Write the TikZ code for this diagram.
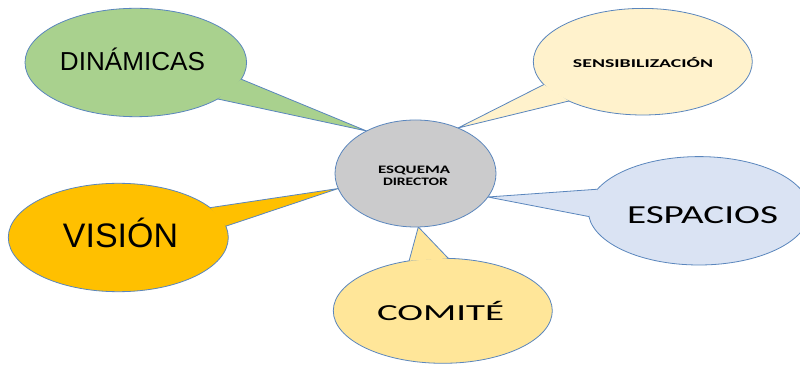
\documentclass[tikz,border=0pt]{standalone}
\usepackage{fontspec}
\usepackage{graphicx}
\setmainfont{Liberation Sans}
\newfontfamily\carlito{Carlito}
\usetikzlibrary{shapes.geometric,backgrounds}
\definecolor{rim}{HTML}{5A86BD}
\definecolor{cgreen}{HTML}{A9D18E}
\definecolor{ccream}{HTML}{FFF2CC}
\definecolor{cgold}{HTML}{FFC000}
\definecolor{cblue}{HTML}{DAE3F3}
\definecolor{cyellow}{HTML}{FFE699}
\definecolor{cgrey}{HTML}{CBCBCC}
% stretch a word to a given width, keeping its height
\newcommand\widen[2]{\resizebox{#1}{\height}{#2}}
% speech bubble: name, colour, centre, width, height, base angles A/B, tip angle on the hub
\newcommand\callout[8]{%
  \node[bubble, fill=#2, minimum width=#4pt, minimum height=#5pt] (#1) at (#3) {};
  \coordinate (#1-tip) at (esq.#8);
  \fill[#2] (#1.#6) -- (#1-tip) -- (#1.#7) -- cycle;
  \draw[rimline] (#1.#6) -- (#1-tip) -- (#1.#7);
}
\begin{document}
\begin{tikzpicture}[x=1pt,y=1pt,
  bubble/.style={ellipse, draw=rim, line width=0.8pt, inner sep=0pt, outer sep=0pt},
  rimline/.style={draw=rim, line width=0.8pt, line join=miter},
  txt/.style={inner sep=0pt, anchor=base, text=black}]
\useasboundingbox (0,0) rectangle (800,364);
\clip (0,0) rectangle (800,364);

% central hub
\node[bubble, fill=cgrey, minimum width=161pt, minimum height=107pt] (esq) at (415.5,190.5) {};

\begin{pgfonlayer}{background}
  \fill[white] (0,0) rectangle (800,364);
  \callout{din}{cgreen}{135.8,301.5}{221.6}{108.4}{-9.7}{-24.3}{139}
  \callout{sen}{ccream}{642.8,302.3}{219}{106.6}{193.7}{208.3}{47.6}
  \callout{vis}{cgold}{118.3,126.5}{220}{108.4}{18.9}{6.6}{191.3}
  \callout{esp}{cblue}{699,153.2}{221.4}{108.4}{168}{183}{-18.4}
  \callout{com}{cyellow}{442.8,53.2}{219}{105}{124.5}{84}{-87}
\end{pgfonlayer}

% texts
\node[txt] (tdin) at (132.5,293) {\widen{145pt}{\fontsize{26}{30}\selectfont DINÁMICAS}};
\node[txt] (tvis) at (120.5,116.7) {\widen{115pt}{\fontsize{34}{40}\selectfont VISIÓN}};
\node[txt] (tsen) at (643,296.3) {\widen{140pt}{\carlito\bfseries\fontsize{12}{14}\selectfont SENSIBILIZACIÓN}};
\node[txt] (tesq1) at (414,190.7) {\widen{72pt}{\carlito\bfseries\fontsize{11.4}{13}\selectfont ESQUEMA}};
\node[txt] (tesq2) at (415.5,178.3) {\widen{65pt}{\carlito\bfseries\fontsize{11.4}{13}\selectfont DIRECTOR}};
\node[txt] (tesp) at (702.5,140.7) {\widen{151pt}{\carlito\fontsize{26}{30}\selectfont ESPACIOS}};
\node[txt] (tcom) at (440.5,43.3) {\widen{127pt}{\carlito\fontsize{23}{27}\selectfont COMITÉ}};
\end{tikzpicture}
\end{document}
